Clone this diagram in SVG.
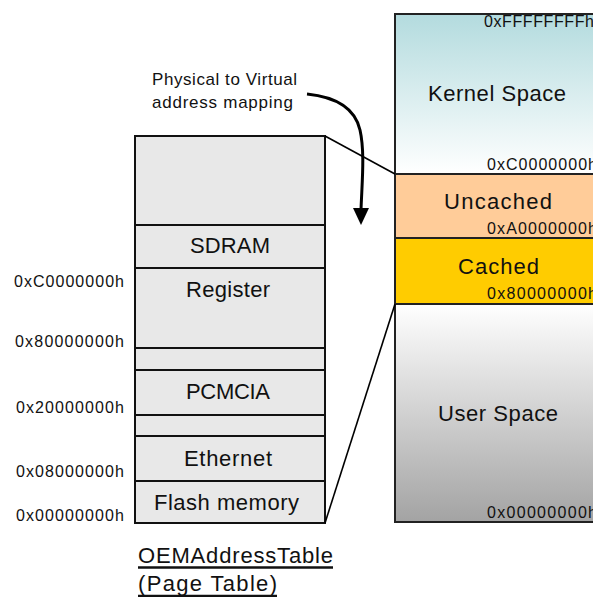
<svg xmlns="http://www.w3.org/2000/svg" width="593" height="597" viewBox="0 0 593 597">
<defs>
<linearGradient id="gKernel" x1="0" y1="0" x2="0" y2="1">
<stop offset="0" stop-color="#b3dbde"/>
<stop offset="1" stop-color="#ffffff"/>
</linearGradient>
<linearGradient id="gUser" x1="0" y1="0" x2="0" y2="1">
<stop offset="0" stop-color="#ffffff"/>
<stop offset="1" stop-color="#a3a3a3"/>
</linearGradient>
<style>
text{font-family:"Liberation Sans",Arial,sans-serif;fill:#111;}
.big{font-size:22px;text-anchor:start;}
.addr{font-size:16px;}
.note{font-size:17px;}
.cell{fill:#e8e8e8;stroke:#111;stroke-width:2;}
.seg{stroke:#222;stroke-width:2;}
.conn{fill:none;stroke:#000;stroke-width:1.6;}
</style>
</defs>
<rect width="593" height="597" fill="#ffffff"/>

<g id="page-table">
<rect class="cell" x="135" y="136" width="190" height="89"/>
<rect class="cell" x="135" y="225" width="190" height="43"/>
<rect class="cell" x="135" y="268" width="190" height="80"/>
<rect class="cell" x="135" y="348" width="190" height="22"/>
<rect class="cell" x="135" y="370" width="190" height="45"/>
<rect class="cell" x="135" y="415" width="190" height="21"/>
<rect class="cell" x="135" y="436" width="190" height="45"/>
<rect class="cell" x="135" y="481" width="190" height="42"/>
<text class="big" x="190" y="253" textLength="80" lengthAdjust="spacing">SDRAM</text>
<text class="big" x="186" y="297" textLength="84" lengthAdjust="spacing">Register</text>
<text class="big" x="186" y="399" textLength="84" lengthAdjust="spacing">PCMCIA</text>
<text class="big" x="184" y="466" textLength="88" lengthAdjust="spacing">Ethernet</text>
<text class="big" x="154" y="510" textLength="145" lengthAdjust="spacing">Flash memory</text>
</g>

<g id="phys-addresses">
<text class="addr" x="14" y="287" textLength="110" lengthAdjust="spacing">0xC0000000h</text>
<text class="addr" x="15" y="347" textLength="109" lengthAdjust="spacing">0x80000000h</text>
<text class="addr" x="16" y="413" textLength="108" lengthAdjust="spacing">0x20000000h</text>
<text class="addr" x="16" y="477" textLength="108" lengthAdjust="spacing">0x08000000h</text>
<text class="addr" x="16" y="521" textLength="108" lengthAdjust="spacing">0x00000000h</text>
</g>

<g id="title">
<text class="big" x="138" y="563" textLength="195" lengthAdjust="spacing">OEMAddressTable</text>
<line x1="138" y1="567.5" x2="333" y2="567.5" stroke="#111" stroke-width="2.5"/>
<text class="big" x="138" y="591" textLength="139" lengthAdjust="spacing">(Page Table)</text>
<line x1="138" y1="596" x2="277" y2="596" stroke="#111" stroke-width="2.5"/>
</g>

<g id="kernel-space">
<rect x="395" y="14" width="210" height="160" fill="url(#gKernel)" class="seg"/>
<text class="addr" x="484" y="27" textLength="110" lengthAdjust="spacing">0xFFFFFFFFh</text>
<text class="big" x="428" y="101" textLength="138" lengthAdjust="spacing">Kernel Space</text>
<text class="addr" x="487" y="170" textLength="110" lengthAdjust="spacing">0xC0000000h</text>
</g>

<g id="uncached">
<rect x="395" y="174" width="210" height="64" fill="#ffcc99" class="seg"/>
<text class="big" x="444" y="209" textLength="108" lengthAdjust="spacing">Uncached</text>
<text class="addr" x="487" y="234" textLength="110" lengthAdjust="spacing">0xA0000000h</text>
</g>

<g id="cached">
<rect x="395" y="238" width="210" height="66" fill="#ffcc00" class="seg"/>
<text class="big" x="458" y="274" textLength="81" lengthAdjust="spacing">Cached</text>
<text class="addr" x="487" y="299" textLength="110" lengthAdjust="spacing">0x80000000h</text>
</g>

<g id="user-space">
<rect x="395" y="304" width="210" height="218" fill="url(#gUser)" class="seg"/>
<text class="big" x="438" y="421" textLength="120" lengthAdjust="spacing">User Space</text>
<text class="addr" x="487" y="518" textLength="110" lengthAdjust="spacing">0x00000000h</text>
</g>

<g id="mapping-note">
<text class="note" x="152" y="85" textLength="145" lengthAdjust="spacing">Physical to Virtual</text>
<text class="note" x="152" y="108" textLength="141" lengthAdjust="spacing">address mapping</text>
</g>

<g id="connectors">
<line class="conn" x1="325" y1="136" x2="395" y2="174"/>
<line class="conn" x1="325" y1="523" x2="395" y2="304"/>
<path d="M307,94 C336,97 355,108 360,130 C365,152 362,182 361,210" fill="none" stroke="#000" stroke-width="3"/>
<polygon points="353,208 369,208 361,225" fill="#000"/>
</g>
</svg>
